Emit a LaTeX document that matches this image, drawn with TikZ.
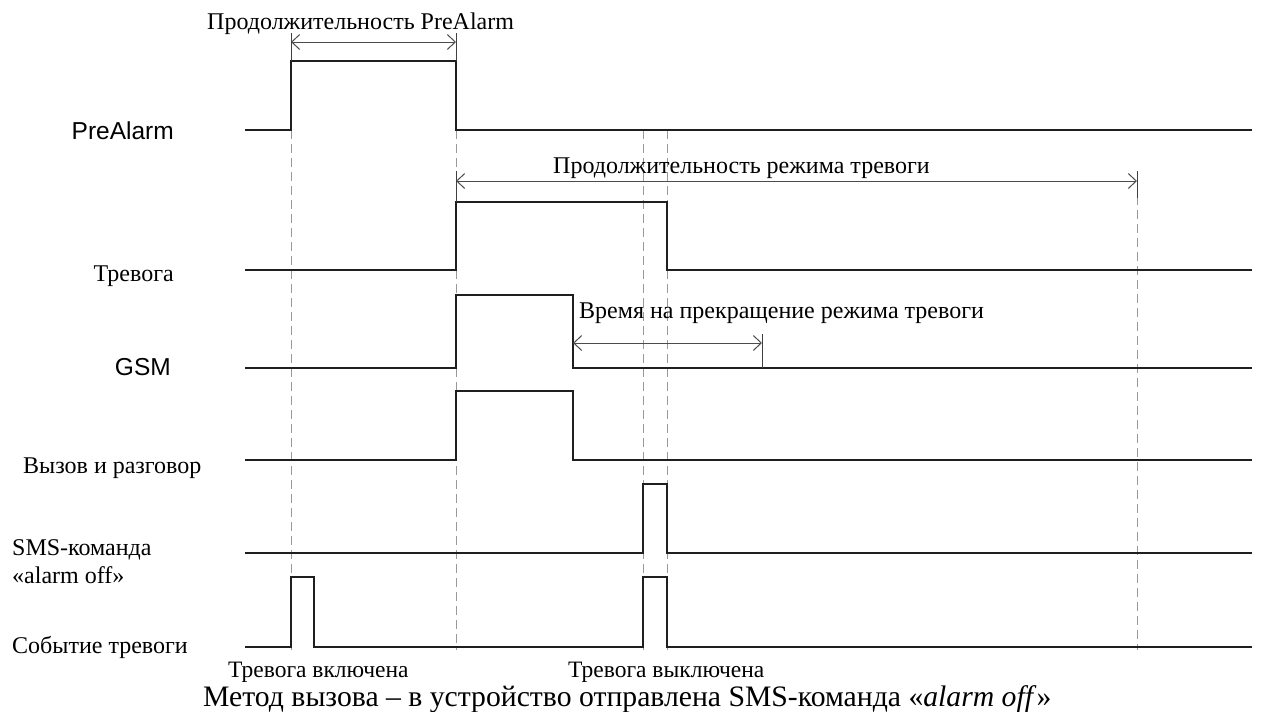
\documentclass[tikz,border=0pt]{standalone}
\usepackage{fontspec}
\setmainfont{Liberation Serif}
\newfontfamily\arialf{Liberation Sans}
\usetikzlibrary{arrows.meta}
\begin{document}
\begin{tikzpicture}[x=1pt,y=-1pt,
  sig/.style={line width=2.8pt, draw=black!88, line join=miter},
  guide/.style={line width=1pt, draw=black!40, dash pattern=on 9pt off 5pt},
  dim/.style={line width=1pt, draw=black!70, {Straight Barb[length=8pt,width=15pt]}-{Straight Barb[length=8pt,width=15pt]}},
  tickl/.style={line width=1pt, draw=black!75},
  lbl/.style={inner sep=0pt, font=\fontsize{24}{28}\selectfont},
  blbl/.style={inner sep=0pt, font=\fontsize{23.5}{26}\selectfont},
  slbl/.style={inner sep=0pt, font=\arialf\fontsize{24.5}{28}\selectfont},
  captxt/.style={inner sep=0pt, font=\fontsize{29.7}{32}\selectfont}]
\useasboundingbox (0,0) rectangle (1270,712);

% guides
\draw[guide] (291,130) -- (291,650);
\draw[guide] (456,130) -- (456,650);
\draw[guide] (643,130) -- (643,650);
\draw[guide] (667,130) -- (667,650);
\draw[guide] (1137,196) -- (1137,650);

% signals
\draw[sig] (245,130) -- (291,130) -- (291,61) -- (456,61) -- (456,130) -- (1252,130);
\draw[sig] (245,270) -- (456,270) -- (456,202) -- (667,202) -- (667,270) -- (1252,270);
\draw[sig] (245,368) -- (456,368) -- (456,295) -- (573,295) -- (573,368) -- (1252,368);
\draw[sig] (245,460) -- (456,460) -- (456,391) -- (573,391) -- (573,460) -- (1252,460);
\draw[sig] (245,553) -- (643,553) -- (643,484) -- (667,484) -- (667,553) -- (1252,553);
\draw[sig] (245,647) -- (291,647) -- (291,577) -- (314,577) -- (314,647) -- (643,647) -- (643,577) -- (667,577) -- (667,647) -- (1252,647);

% dimension arrows
\coordinate (p1) at (291,42);
\coordinate (p2) at (456,42);
\draw[tickl] (291,33) -- (291,61);
\draw[tickl] (456,33) -- (456,61);
\draw[dim] (p1) -- (p2);

\coordinate (t1) at (456,181);
\coordinate (t2) at (1137,181);
\draw[tickl] (1137,171) -- (1137,198);
\draw[tickl] (456,171) -- (456,202);
\draw[dim] (t1) -- (t2);

\coordinate (s1) at (573,343);
\coordinate (s2) at (762,343);
\draw[tickl] (762,334) -- (762,368);
\draw[dim] (s1) -- (s2);

% texts
\node[lbl, anchor=base west] (hPre) at (207,29) {Продолжительность PreAlarm};
\node[lbl, anchor=base west] (hAl) at (553,173) {Продолжительность режима тревоги};
\node[lbl, anchor=base west] (hStop) at (579,318) {Время на прекращение режима тревоги};

\node[slbl, anchor=base east] (lPre) at (174,139) {PreAlarm};
\node[lbl, anchor=base east] (lAl) at (174,281) {Тревога};
\node[slbl, anchor=base east] (lGsm) at (171,375) {GSM};
\node[lbl, anchor=base west] (lCall) at (23,473) {Вызов и разговор};
\node[lbl, anchor=base west] (lSms) at (12,555) {SMS-команда};
\node[lbl, anchor=base west] (lOff) at (12,583) {«alarm off»};
\node[lbl, anchor=base west] (lEv) at (12,653) {Событие тревоги};

\node[blbl, anchor=base west] (bOn) at (228,677) {Тревога включена};
\node[blbl, anchor=base west] (bOff) at (568,677) {Тревога выключена};
\node[captxt, anchor=base west] (caption) at (203,706) {Метод вызова – в устройство отправлена SMS-команда «\textit{alarm off}»};
\end{tikzpicture}
\end{document}
